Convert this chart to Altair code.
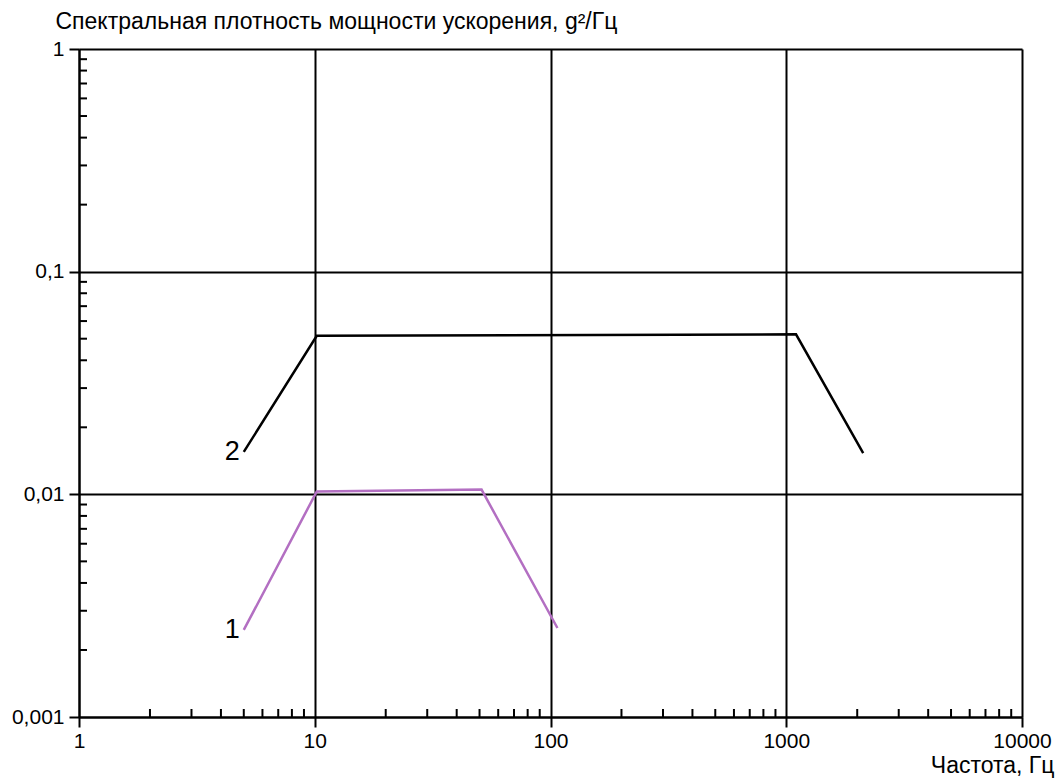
import altair as alt
import pandas as pd

# Series data (frequency in Hz, PSD in g^2/Hz)
s1_freq = [5, 10.2, 51, 107]
s1_psd = [0.00246, 0.0103, 0.0105, 0.00251]
s2_freq = [5, 10.2, 1100, 2120]
s2_psd = [0.0155, 0.0515, 0.0523, 0.0153]

series_names = ["1", "2"]
series_colors = ["#b36fc2", "#000000"]

x_major = [1, 10, 100, 1000, 10000]
y_major = [0.001, 0.01, 0.1, 1]
x_minor = [m * d for d in [1, 10, 100, 1000] for m in range(2, 10)]
y_minor = [m * d for d in [0.001, 0.01, 0.1] for m in range(2, 10)]

label_text = ["1", "2"]
label_x = [5, 5]
label_y = [0.00246, 0.0155]

W, H = 943, 668
FONT = "Liberation Sans"

lines_df = pd.DataFrame({
    "freq": s1_freq + s2_freq,
    "psd": s1_psd + s2_psd,
    "series": ["1"] * len(s1_freq) + ["2"] * len(s2_freq),
})
labels_df = pd.DataFrame({"freq": label_x, "psd": label_y, "text": label_text})
xminor_df = pd.DataFrame({"freq": x_minor})
yminor_df = pd.DataFrame({"psd": y_minor})

xscale = alt.Scale(type="log", domain=[1, 10000], nice=False)
yscale = alt.Scale(type="log", domain=[0.001, 1], nice=False)

xaxis = alt.Axis(
    values=x_major, grid=True, gridColor="black", gridWidth=2, gridOpacity=1,
    domainColor="black", domainWidth=2, tickColor="black", tickWidth=2, tickSize=10,
    labelFont=FONT, labelFontSize=21, labelColor="black", labelPadding=3,
    labelFlush=False, labelOverlap=False, labelExpr="toString(datum.value)",
    title="Частота, Гц", titleFont=FONT, titleFontSize=23, titleFontWeight="normal",
    titleColor="black", titleAnchor="end", titleAlign="right", titleX=975, titleY=55,
    titleBaseline="alphabetic",
)
yaxis = alt.Axis(
    values=y_major, grid=True, gridColor="black", gridWidth=2, gridOpacity=1,
    domainColor="black", domainWidth=2, tickColor="black", tickWidth=2, tickSize=10,
    labelFont=FONT, labelFontSize=21, labelColor="black", labelPadding=5,
    labelFlush=False, labelOverlap=False,
    labelExpr="replace(toString(datum.value), '.', ',')",
    title="Спектральная плотность мощности ускорения, g²/Гц", titleFont=FONT,
    titleFontSize=23, titleFontWeight="normal", titleColor="black", titleAngle=0,
    titleAlign="left", titleBaseline="alphabetic", titleX=-24, titleY=-21,
)

lines = alt.Chart(lines_df).mark_line(strokeWidth=2.5).encode(
    x=alt.X("freq:Q", scale=xscale, axis=xaxis),
    y=alt.Y("psd:Q", scale=yscale, axis=yaxis),
    color=alt.Color("series:N", scale=alt.Scale(domain=series_names, range=series_colors), legend=None),
    detail="series:N",
)

xminor = alt.Chart(xminor_df).mark_rule(color="black", strokeWidth=2).encode(
    x=alt.X("freq:Q", scale=xscale),
    y=alt.value(H),
    y2=alt.value(H - 8),
)
yminor = alt.Chart(yminor_df).mark_rule(color="black", strokeWidth=2).encode(
    y=alt.Y("psd:Q", scale=yscale),
    x=alt.value(0),
    x2=alt.value(8),
)

labels = alt.Chart(labels_df).mark_text(
    align="right", baseline="middle", dx=-4, font=FONT, fontSize=27, color="black"
).encode(
    x=alt.X("freq:Q", scale=xscale),
    y=alt.Y("psd:Q", scale=yscale),
    text="text:N",
)

chart = alt.layer(xminor, yminor, lines, labels).properties(
    width=W, height=H,
    padding={"left": 79, "top": 49, "right": 39, "bottom": 63},
    autosize=alt.AutoSizeParams(type="none"),
    background="white",
).configure_view(stroke=None)

chart.save("out.html", embed_options={"renderer": "svg", "actions": False})
